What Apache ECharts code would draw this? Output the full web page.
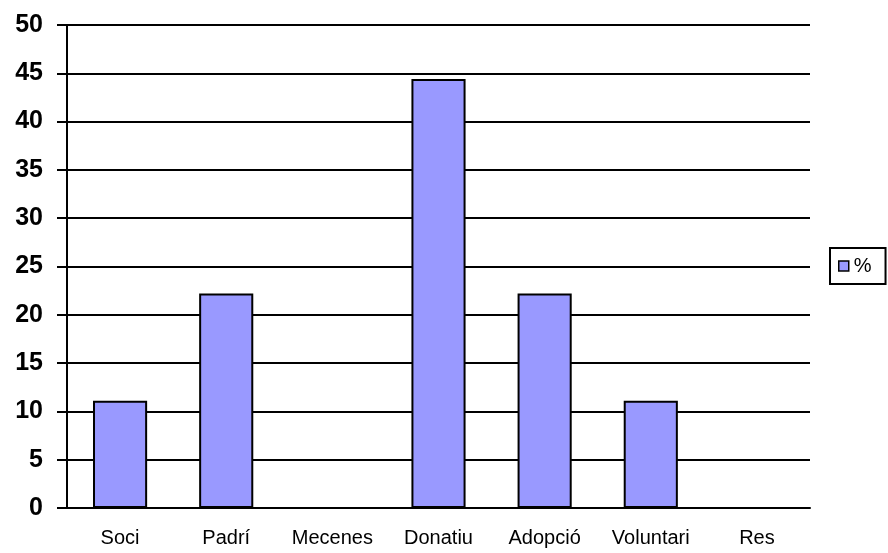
<!DOCTYPE html>
<html>
<head>
<meta charset="utf-8">
<style>
  html, body { margin: 0; padding: 0; background: #fff; }
  #chart { width: 888px; height: 553px; }
</style>
<script src="https://cdn.jsdelivr.net/npm/echarts@6/dist/echarts.min.js"></script>
</head>
<body>
<div id="chart"></div>
<script>
// categories and values
const categories = ['Soci', 'Padrí', 'Mecenes', 'Donatiu', 'Adopció', 'Voluntari', 'Res'];
const percent = [11.1, 22.2, 0, 44.4, 22.2, 11.1, 0];

let myChart = echarts.init(document.getElementById('chart'));
let option = {
  animation: false,
  grid: {
    left: 67,
    top: 25,
    width: 743,
    height: 483
  },
  legend: {
    left: 830,
    top: 248,
    orient: 'vertical',
    itemWidth: 10,
    itemHeight: 10,
    itemGap: 0,
    padding: [8, 14, 8, 8],
    borderColor: '#000',
    borderWidth: 2,
    icon: 'rect',
    textStyle: {
      fontFamily: 'Liberation Sans',
      fontSize: 20,
      color: '#000'
    },
    data: [{ name: '%', itemStyle: { borderColor: '#000', borderWidth: 1.5 } }]
  },
  xAxis: {
    type: 'category',
    data: categories,
    axisLine: { lineStyle: { color: '#000', width: 2 } },
    axisTick: { length: 8, lineStyle: { color: '#000', width: 2 } },
    axisLabel: {
      margin: 20,
      color: '#000',
      fontFamily: 'Liberation Sans',
      fontSize: 20
    }
  },
  yAxis: {
    type: 'value',
    min: 0,
    max: 50,
    interval: 5,
    axisLine: { show: true, lineStyle: { color: '#000', width: 2 } },
    axisTick: { show: true, length: 10, lineStyle: { color: '#000', width: 2 } },
    axisLabel: {
      margin: 24,
      color: '#000',
      fontFamily: 'Liberation Sans',
      fontWeight: 'bold',
      fontSize: 25
    },
    splitLine: { lineStyle: { color: '#000', width: 2 } }
  },
  series: [
    {
      name: '%',
      type: 'bar',
      data: percent,
      barWidth: '51%',
      itemStyle: {
        color: '#9999ff',
        borderColor: '#000',
        borderWidth: 2
      }
    }
  ]
};
myChart.setOption(option);
</script>
</body>
</html>
